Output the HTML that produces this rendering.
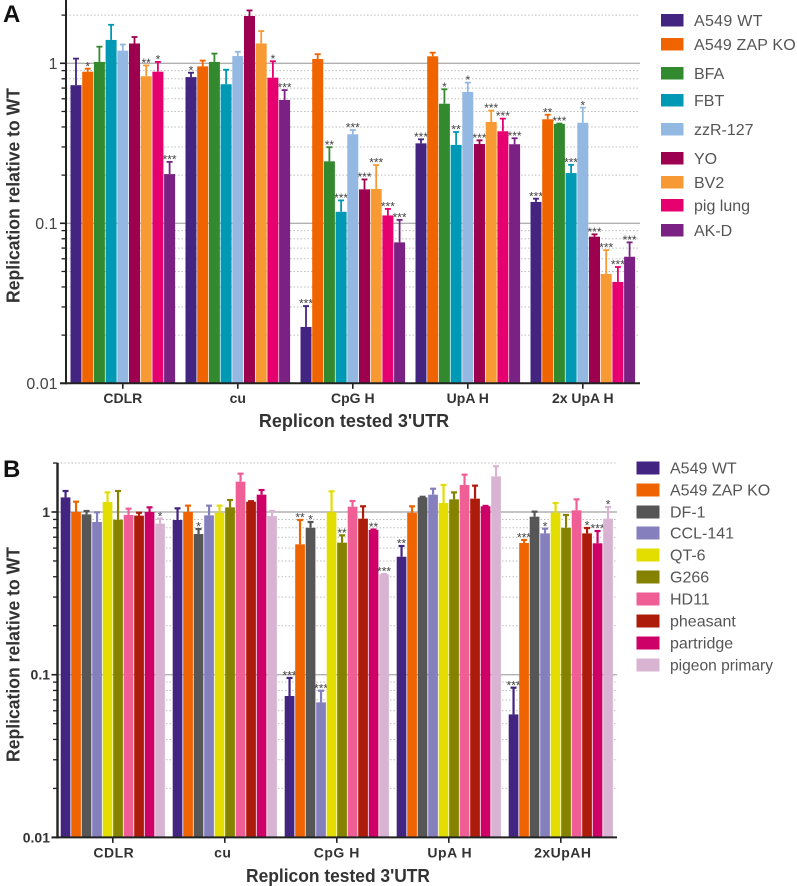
<!DOCTYPE html>
<html lang="en">
<head>
<meta charset="utf-8">
<title>Replication relative to WT</title>
<style>
html,body{margin:0;padding:0;background:#fff;}
#figure{display:block;width:797px;height:886px;font-family:"Liberation Sans",sans-serif;}
.panel-letter{font-size:24px;font-weight:bold;fill:#111;}
.y-title{font-size:18px;font-weight:bold;fill:#333;text-anchor:middle;}
.x-title{font-size:18px;font-weight:bold;fill:#333;text-anchor:middle;}
.legend-text{font-size:16px;fill:#555;}
.tick-label-a{font-size:16px;fill:#444;text-anchor:end;}
.tick-label-b{font-size:14px;font-weight:bold;fill:#333;text-anchor:end;}
.cat-label-a{font-size:14px;font-weight:bold;fill:#333;text-anchor:middle;}
.cat-label-b{font-size:14px;font-weight:bold;fill:#333;text-anchor:middle;letter-spacing:0.5px;}
.star{font-size:12px;fill:#444;text-anchor:middle;}
</style>
</head>
<body>
<svg id="figure" xmlns="http://www.w3.org/2000/svg" width="797" height="886" viewBox="0 0 797 886">
  <rect x="0" y="0" width="797" height="886" fill="#fff"/>
  <g id="panelA"></g>
  <g id="panelB"></g>

  <text class="panel-letter" x="3" y="22">A</text>
  <text class="panel-letter" x="3" y="477">B</text>

  <text class="y-title" transform="translate(19.5,195.5) rotate(-90)" textLength="215" lengthAdjust="spacingAndGlyphs">Replication relative to WT</text>
  <text class="y-title" transform="translate(19.5,654.5) rotate(-90)" textLength="215" lengthAdjust="spacingAndGlyphs">Replication relative to WT</text>
  <text class="x-title" x="354" y="427">Replicon tested 3'UTR</text>
  <text class="x-title" x="338" y="882" textLength="184" lengthAdjust="spacingAndGlyphs">Replicon tested 3'UTR</text>

  <g>
    <g><rect x="661" y="14" width="22.5" height="12.5" fill="#432481"/><text class="legend-text" x="694" y="26" letter-spacing="0.3">A549 WT</text></g>
    <g><rect x="661" y="38" width="22.5" height="12.5" fill="#f06400"/><text class="legend-text" x="694" y="50" letter-spacing="0.15">A549 ZAP KO</text></g>
    <g><rect x="661" y="67" width="22.5" height="12.5" fill="#338a2e"/><text class="legend-text" x="694" y="79">BFA</text></g>
    <g><rect x="661" y="94" width="22.5" height="12.5" fill="#0099b5"/><text class="legend-text" x="694" y="106">FBT</text></g>
    <g><rect x="661" y="123" width="22.5" height="12.5" fill="#93b8e2"/><text class="legend-text" x="694" y="135">zzR-127</text></g>
    <g><rect x="661" y="152" width="22.5" height="12.5" fill="#9e0050"/><text class="legend-text" x="694" y="164">YO</text></g>
    <g><rect x="661" y="176" width="22.5" height="12.5" fill="#f79a33"/><text class="legend-text" x="694" y="188">BV2</text></g>
    <g><rect x="661" y="199" width="22.5" height="12.5" fill="#e6006f"/><text class="legend-text" x="694" y="211">pig lung</text></g>
    <g><rect x="661" y="224" width="22.5" height="12.5" fill="#7a2183"/><text class="legend-text" x="694" y="236">AK-D</text></g>
  </g>

  <g>
    <g><rect x="636.5" y="461.5" width="23" height="13" fill="#432481"/><text class="legend-text" x="670" y="473.5">A549 WT</text></g>
    <g><rect x="636.5" y="483.5" width="23" height="13" fill="#f06400"/><text class="legend-text" x="670" y="495.5">A549 ZAP KO</text></g>
    <g><rect x="636.5" y="505.5" width="23" height="13" fill="#565656"/><text class="legend-text" x="670" y="517.5">DF-1</text></g>
    <g><rect x="636.5" y="526.5" width="23" height="13" fill="#857fbd"/><text class="legend-text" x="670" y="538.5">CCL-141</text></g>
    <g><rect x="636.5" y="548.5" width="23" height="13" fill="#e3de00"/><text class="legend-text" x="670" y="560.5">QT-6</text></g>
    <g><rect x="636.5" y="570.5" width="23" height="13" fill="#858200"/><text class="legend-text" x="670" y="582.5">G266</text></g>
    <g><rect x="636.5" y="592.5" width="23" height="13" fill="#ef5f96"/><text class="legend-text" x="670" y="604.5">HD11</text></g>
    <g><rect x="636.5" y="614.5" width="23" height="13" fill="#ad1c0a"/><text class="legend-text" x="670" y="626.5">pheasant</text></g>
    <g><rect x="636.5" y="636.5" width="23" height="13" fill="#cc0066"/><text class="legend-text" x="670" y="648.5">partridge</text></g>
    <g><rect x="636.5" y="658.5" width="23" height="13" fill="#d9b4d2"/><text class="legend-text" x="670" y="670.5" textLength="103" lengthAdjust="spacingAndGlyphs">pigeon primary</text></g>
  </g>
</svg>

<script>
// ---------- shared axis data ----------
const tickValues = [1, 0.1, 0.01];
const tickLabels = ["1", "0.1", "0.01"];
const minorMultiples = [2, 3, 4, 5, 6, 7, 8, 9];
const decadeStarts = [0.01, 0.1, 1];
const axisMaxValue = 2;

// ---------- panel A data ----------
const categoriesA = ["CDLR", "cu", "CpG H", "UpA H", "2x UpA H"];
const seriesA = ["A549 WT", "A549 ZAP KO", "BFA", "FBT", "zzR-127", "YO", "BV2", "pig lung", "AK-D"];
const colorsA = ["#432481", "#f06400", "#338a2e", "#0099b5", "#93b8e2", "#9e0050", "#f79a33", "#e6006f", "#7a2183"];

const meansCdlrA = [0.73, 0.886, 1.02, 1.40, 1.20, 1.33, 0.83, 0.886, 0.203];
const upperCdlrA = [1.07, 0.925, 1.27, 1.74, 1.31, 1.46, 0.97, 1.02, 0.242];
const starsCdlrA = ["", "*", "", "", "", "", "**", "*", "***"];

const meansCuA = [0.82, 0.957, 1.02, 0.74, 1.11, 1.975, 1.33, 0.813, 0.59];
const upperCuA = [0.873, 1.04, 1.15, 0.912, 1.18, 2.14, 1.59, 1.03, 0.68];
const starsCuA = ["*", "", "", "", "", "", "", "*", "***"];

const meansCpgA = [0.0225, 1.064, 0.244, 0.118, 0.36, 0.163, 0.164, 0.112, 0.076];
const upperCpgA = [0.0304, 1.14, 0.299, 0.139, 0.383, 0.188, 0.231, 0.123, 0.105];
const starsCpgA = ["***", "", "**", "***", "***", "***", "***", "***", "***"];

const meansUpaA = [0.316, 1.106, 0.559, 0.309, 0.662, 0.313, 0.43, 0.376, 0.312];
const upperUpaA = [0.335, 1.165, 0.688, 0.372, 0.757, 0.33, 0.506, 0.451, 0.34];
const starsUpaA = ["***", "", "*", "**", "*", "***", "***", "***", "***"];

const means2xUpaA = [0.136, 0.447, 0.418, 0.206, 0.425, 0.0825, 0.0482, 0.043, 0.0618];
const upper2xUpaA = [0.1425, 0.477, 0.42, 0.232, 0.528, 0.0853, 0.068, 0.0533, 0.076];
const stars2xUpaA = ["***", "**", "***", "***", "*", "***", "***", "***", "***"];

// ---------- panel B data ----------
const categoriesB = ["CDLR", "cu", "CpG H", "UpA H", "2xUpAH"];
const seriesB = ["A549 WT", "A549 ZAP KO", "DF-1", "CCL-141", "QT-6", "G266", "HD11", "pheasant", "partridge", "pigeon primary"];
const colorsB = ["#432481", "#f06400", "#565656", "#857fbd", "#e3de00", "#858200", "#ef5f96", "#ad1c0a", "#cc0066", "#d9b4d2"];

const meansCdlrB = [1.23, 1.0, 0.967, 0.868, 1.152, 0.897, 0.959, 0.95, 1.0, 0.848];
const upperCdlrB = [1.346, 1.157, 1.014, 0.995, 1.32, 1.346, 1.048, 0.99, 1.068, 0.91];
const starsCdlrB = ["", "", "", "", "", "", "", "", "", "*"];

const meansCuB = [0.893, 1.0, 0.732, 0.954, 0.986, 1.068, 1.536, 1.157, 1.278, 0.945];
const upperCuB = [1.053, 1.094, 0.786, 1.094, 1.094, 1.185, 1.72, 1.165, 1.365, 1.014];
const starsCuB = ["", "", "*", "", "", "", "", "", "", ""];

const meansCpgB = [0.074, 0.633, 0.80, 0.0676, 0.998, 0.648, 1.078, 0.91, 0.776, 0.414];
const upperCpgB = [0.0955, 0.893, 0.868, 0.0797, 1.34, 0.719, 1.168, 1.084, 0.78, 0.416];
const starsCpgB = ["***", "**", "*", "***", "", "**", "", "", "**", "***"];

const meansUpaB = [0.531, 0.99, 1.23, 1.278, 1.136, 1.196, 1.466, 1.208, 1.084, 1.656];
const upperUpaB = [0.618, 1.084, 1.24, 1.39, 1.466, 1.32, 1.696, 1.452, 1.09, 1.91];
const starsUpaB = ["**", "", "", "", "", "", "", "", "", ""];

const means2xUpaB = [0.057, 0.645, 0.936, 0.739, 0.99, 0.80, 1.024, 0.739, 0.642, 0.91];
const upper2xUpaB = [0.0832, 0.673, 1.005, 0.79, 1.136, 0.959, 1.196, 0.797, 0.764, 1.073];
const stars2xUpaB = ["***", "***", "", "*", "", "", "", "*", "***", "*"];

// ---------- drawing ----------
const SVG_NS = "http://www.w3.org/2000/svg";

function makeEl(tag, attrs) {
  const el = document.createElementNS(SVG_NS, tag);
  for (const k in attrs) el.setAttribute(k, attrs[k]);
  return el;
}

function slug(s) {
  return String(s).toLowerCase().replace(/[^a-z0-9]+/g, "-").replace(/^-|-$/g, "");
}

function drawPanel(root, geom, categories, series, colors, means, uppers, stars) {
  const yScale = function (v) { return geom.yOne - Math.log10(v) * geom.decade; };
  const barX = function (g, s) { return geom.xStart + g * geom.groupStep + s * geom.barStep; };
  const baseY = yScale(0.01);

  // minor grid + minor ticks
  decadeStarts.forEach(function (d) {
    minorMultiples.forEach(function (m) {
      const v = d * m;
      if (v > axisMaxValue) return;
      const y = yScale(v);
      const line = makeEl("line", { x1: geom.axisX, x2: geom.xEnd, y1: y, y2: y, stroke: "#bdbdbd", "stroke-width": 1, "stroke-dasharray": "1.5 2" });
      
      
      root.appendChild(line);
      const tick = makeEl("line", { x1: geom.axisX - 4.5, x2: geom.axisX, y1: y, y2: y, stroke: "#222", "stroke-width": 1.3 });
      
      
      root.appendChild(tick);
    });
  });

  // major grid, ticks, labels
  tickValues.forEach(function (v, i) {
    const y = yScale(v);
    if (v !== 0.01) {
      const line = makeEl("line", { x1: geom.axisX, x2: geom.xEnd, y1: y, y2: y, stroke: "#b0b0b0", "stroke-width": 1.4 });
      
      
      root.appendChild(line);
    }
    const tick = makeEl("line", { x1: geom.axisX - 6, x2: geom.axisX, y1: y, y2: y, stroke: "#222", "stroke-width": 1.6 });
    
    
    root.appendChild(tick);
    const label = makeEl("text", { x: geom.axisX - geom.labelGap, y: y + geom.labelDrop, class: geom.tickClass });
    label.textContent = tickLabels[i];
    
    
    root.appendChild(label);
  });

  // bars, error bars, significance stars
  categories.forEach(function (cat, g) {
    series.forEach(function (name, s) {
      const x = barX(g, s);
      const cx = x + geom.barWidth / 2;
      const top = yScale(means[g][s]);
      const up = yScale(uppers[g][s]);

      const wl = makeEl("line", { x1: cx, x2: cx, y1: top, y2: up, stroke: colors[s], "stroke-width": geom.errWidth });
      
      
      root.appendChild(wl);

      const cap = makeEl("line", { x1: cx - geom.capHalf, x2: cx + geom.capHalf, y1: up, y2: up, stroke: colors[s], "stroke-width": geom.errWidth });
      
      
      root.appendChild(cap);

      const bar = makeEl("rect", { x: x, y: top, width: geom.barWidth, height: baseY - top, fill: colors[s] });
      
      
      root.appendChild(bar);

      if (stars[g][s]) {
        const st = makeEl("text", { x: cx, y: up + 1.6, class: "star" });
        st.textContent = stars[g][s];
        
        
        root.appendChild(st);
      }
    });

    const tickX = barX(g, 0) + (series.length * geom.barStep - (geom.barStep - geom.barWidth)) / 2;
    const xt = makeEl("line", { x1: tickX, x2: tickX, y1: baseY, y2: baseY + 5.5, stroke: "#222", "stroke-width": 1.6 });
    
    
    root.appendChild(xt);

    const xl = makeEl("text", { x: tickX + geom.catShift[g], y: baseY + geom.catDrop, class: geom.catClass });
    xl.textContent = cat;
    
    
    root.appendChild(xl);
  });

  // axes
  const yAxis = makeEl("line", { x1: geom.axisX, x2: geom.axisX, y1: geom.axisTop, y2: baseY + 1, stroke: "#222", "stroke-width": geom.axisWidth });
  
  
  root.appendChild(yAxis);

  const xAxis = makeEl("line", { x1: geom.axisX - 6, x2: geom.xEnd, y1: baseY, y2: baseY, stroke: "#222", "stroke-width": 2 });
  
  
  root.appendChild(xAxis);
}

drawPanel(
  document.getElementById("panelA"),
  { yOne: 63.3, decade: 160, axisX: 66, axisTop: 0, axisWidth: 2, xEnd: 640, xStart: 70.5, groupStep: 115, barStep: 11.7, barWidth: 11, errWidth: 1.8, capHalf: 3, catDrop: 19.5, catShift: [0, 0, 0, 0, 0], catClass: "cat-label-a", tickClass: "tick-label-a", labelGap: 8.5, labelDrop: 5.6 },
  categoriesA, seriesA, colorsA,
  [meansCdlrA, meansCuA, meansCpgA, meansUpaA, means2xUpaA],
  [upperCdlrA, upperCuA, upperCpgA, upperUpaA, upper2xUpaA],
  [starsCdlrA, starsCuA, starsCpgA, starsUpaA, stars2xUpaA]
);

drawPanel(
  document.getElementById("panelB"),
  { yOne: 512, decade: 162.7, axisX: 57.5, axisTop: 463, axisWidth: 2.4, xEnd: 617, xStart: 60.7, groupStep: 112, barStep: 10.5, barWidth: 9.7, errWidth: 2.2, capHalf: 3, catDrop: 20.3, catShift: [1, -2, 0, 1, 2], catClass: "cat-label-b", tickClass: "tick-label-b", labelGap: 7.5, labelDrop: 5 },
  categoriesB, seriesB, colorsB,
  [meansCdlrB, meansCuB, meansCpgB, meansUpaB, means2xUpaB],
  [upperCdlrB, upperCuB, upperCpgB, upperUpaB, upper2xUpaB],
  [starsCdlrB, starsCuB, starsCpgB, starsUpaB, stars2xUpaB]
);
</script>
</body>
</html>
